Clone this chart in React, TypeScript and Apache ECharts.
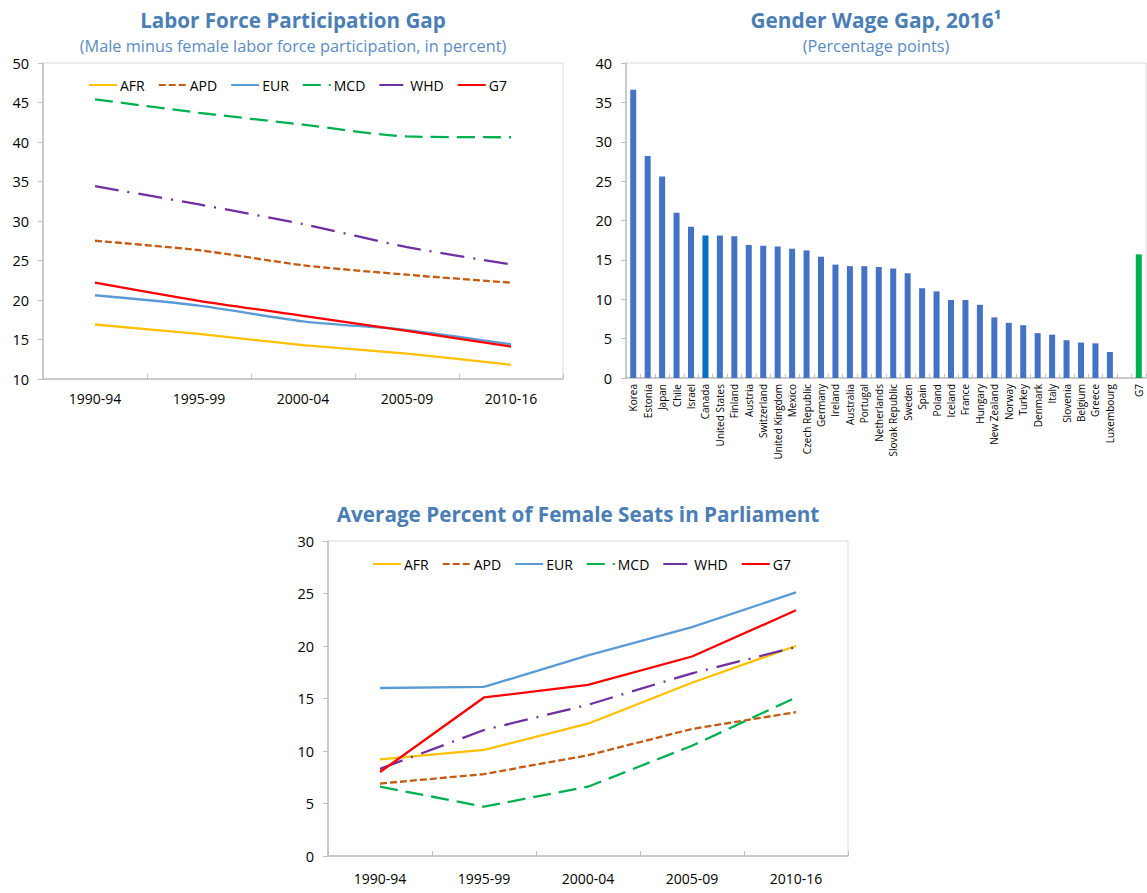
import React, { useEffect, useRef } from "react";
import * as echarts from "echarts";

const periods = ["1990-94", "1995-99", "2000-04", "2005-09", "2010-16"];
const regionNames = ["AFR", "APD", "EUR", "MCD", "WHD", "G7"];

// Labor force participation gap (male minus female, percent)
const lfpAFR = [16.9, 15.7, 14.3, 13.2, 11.8];
const lfpAPD = [27.5, 26.3, 24.4, 23.2, 22.2];
const lfpEUR = [20.6, 19.3, 17.3, 16.2, 14.4];
const lfpMCD = [45.4, 43.7, 42.2, 40.7, 40.6];
const lfpWHD = [34.4, 32.1, 29.6, 26.7, 24.5];
const lfpG7 = [22.2, 19.9, 18.0, 16.1, 14.1];

// Average percent of female seats in parliament
const seatAFR = [9.2, 10.1, 12.6, 16.5, 20.0];
const seatAPD = [6.9, 7.8, 9.6, 12.1, 13.7];
const seatEUR = [16.0, 16.1, 19.1, 21.8, 25.1];
const seatMCD = [6.6, 4.7, 6.6, 10.5, 15.1];
const seatWHD = [8.3, 12.0, 14.4, 17.4, 19.9];
const seatG7 = [8.0, 15.1, 16.3, 19.0, 23.4];

// Gender wage gap 2016 (percentage points)
const countries = [
  "Korea", "Estonia", "Japan", "Chile", "Israel", "Canada", "United States", "Finland",
  "Austria", "Switzerland", "United Kingdom", "Mexico", "Czech Republic", "Germany",
  "Ireland", "Australia", "Portugal", "Netherlands", "Slovak Republic", "Sweden", "Spain",
  "Poland", "Iceland", "France", "Hungary", "New Zealand", "Norway", "Turkey", "Denmark",
  "Italy", "Slovenia", "Belgium", "Greece", "Luxembourg", "", "G7",
];
const wageGap = [
  36.6, 28.2, 25.6, 21.0, 19.2, 18.1, 18.1, 18.0,
  16.9, 16.8, 16.7, 16.4, 16.2, 15.4,
  14.4, 14.2, 14.2, 14.1, 13.9, 13.3, 11.4,
  11.0, 9.9, 9.9, 9.3, 7.7, 7.0, 6.7, 5.7,
  5.5, 4.8, 4.5, 4.4, 3.3, null, 15.7,
];

const FONT = "'Open Sans', 'Noto Sans', sans-serif";
const TITLE_COLOR = "#4A7EB5";
const SUB_COLOR = "#5B8CC2";
const AXIS_COLOR = "#BFBFBF";
const FRAME_COLOR = "#D9D9D9";

const regionStyles: Record<string, { color: string; type: any }> = {
  AFR: { color: "#FFC000", type: "solid" },
  APD: { color: "#C55A11", type: [7, 3] },
  EUR: { color: "#5B9BD5", type: "solid" },
  MCD: { color: "#00B050", type: [18, 8] },
  WHD: { color: "#7030A0", type: [24, 9, 2, 9] },
  G7: { color: "#FF0000", type: "solid" },
};

function lineSeries(name: string, data: number[], idx: number, smooth: number | boolean) {
  const s = regionStyles[name];
  return {
    type: "line",
    name,
    data,
    xAxisIndex: idx,
    yAxisIndex: idx,
    symbol: "none",
    smooth,
    lineStyle: { color: s.color, width: 2.3, type: s.type },
    itemStyle: { color: s.color },
    z: 3,
  };
}

function catAxis(gridIndex: number, margin: number) {
  return {
    type: "category",
    gridIndex,
    data: periods,
    boundaryGap: true,
    axisLine: { lineStyle: { color: AXIS_COLOR, width: 1.5 } },
    axisTick: { show: true, inside: true, length: 5, lineStyle: { color: AXIS_COLOR } },
    axisLabel: { color: "#000", fontSize: 14, fontFamily: FONT, margin },
    splitLine: { show: false },
  };
}

function valAxis(gridIndex: number, min: number, max: number) {
  return {
    type: "value",
    gridIndex,
    min,
    max,
    interval: 5,
    axisLine: { show: true, lineStyle: { color: AXIS_COLOR, width: 1.5 } },
    axisTick: { show: true, inside: false, length: 5, lineStyle: { color: AXIS_COLOR } },
    axisLabel: { color: "#000", fontSize: 14.5, fontFamily: FONT, margin: 14 },
    splitLine: { show: false },
  };
}

function legend(left: number, top: number) {
  return {
    left,
    top,
    orient: "horizontal",
    itemWidth: 28,
    itemHeight: 14,
    itemGap: 13,
    data: regionNames,
    itemStyle: { opacity: 0 },
    textStyle: { color: "#000", fontSize: 14, fontFamily: FONT, padding: [0, 0, 0, -2] },
  };
}

function titleText(x: number, y: number, text: string, size: number, bold: boolean, color: string) {
  return {
    type: "text",
    x,
    y,
    style: {
      text,
      fill: color,
      font: `${bold ? "bold " : ""}${size}px ${FONT}`,
      align: "center",
      verticalAlign: "middle",
    },
  };
}

export default function App() {
  const ref = useRef<HTMLDivElement>(null);

  useEffect(() => {
    if (!ref.current) return;
    const chart = echarts.init(ref.current, null, { renderer: "svg" });
    const barData = wageGap.map((v, i) => ({
      value: v,
      itemStyle: {
        color: countries[i] === "G7" ? "#00B050" : countries[i] === "Canada" ? "#0070C0" : "#4472C4",
      },
    }));

    chart.setOption({
      animation: false,
      backgroundColor: "#FFFFFF",
      textStyle: { fontFamily: FONT },
      graphic: [
        titleText(293, 20, "Labor Force Participation Gap", 20.6, true, TITLE_COLOR),
        titleText(293, 46, "(Male minus female labor force participation, in percent)", 16.3, false, SUB_COLOR),
        titleText(876, 20, "Gender Wage Gap, 2016\u00B9", 20.8, true, TITLE_COLOR),
        titleText(876, 46, "(Percentage points)", 16.3, false, SUB_COLOR),
        titleText(578, 514, "Average Percent of Female Seats in Parliament", 20.7, true, TITLE_COLOR),
      ],
      grid: [
        { left: 43, top: 63, width: 520, height: 316, show: true, borderColor: FRAME_COLOR, borderWidth: 1, containLabel: false },
        { left: 626, top: 63, width: 520, height: 315, show: true, borderColor: FRAME_COLOR, borderWidth: 1, containLabel: false },
        { left: 328, top: 541, width: 520, height: 315, show: true, borderColor: FRAME_COLOR, borderWidth: 1, containLabel: false },
      ],
      legend: [legend(83, 73), legend(367, 552)],
      xAxis: [
        catAxis(0, 12),
        {
          type: "category",
          gridIndex: 1,
          data: countries,
          boundaryGap: true,
          axisLine: { lineStyle: { color: AXIS_COLOR, width: 1.5 } },
          axisTick: { show: true, inside: true, length: 4, interval: 0, lineStyle: { color: AXIS_COLOR } },
          axisLabel: { color: "#000", fontSize: 10, fontFamily: FONT, rotate: 90, interval: 0, margin: 6 },
          splitLine: { show: false },
        },
        catAxis(2, 15),
      ],
      yAxis: [valAxis(0, 10, 50), valAxis(1, 0, 40), valAxis(2, 0, 30)],
      series: [
        lineSeries("AFR", lfpAFR, 0, 0.25),
        lineSeries("APD", lfpAPD, 0, 0.25),
        lineSeries("EUR", lfpEUR, 0, 0.25),
        lineSeries("MCD", lfpMCD, 0, 0.25),
        lineSeries("WHD", lfpWHD, 0, 0.25),
        lineSeries("G7", lfpG7, 0, 0.25),
        {
          type: "bar",
          name: "Wage gap",
          xAxisIndex: 1,
          yAxisIndex: 1,
          data: barData,
          barWidth: 6,
        },
        lineSeries("AFR", seatAFR, 2, false),
        lineSeries("APD", seatAPD, 2, false),
        lineSeries("EUR", seatEUR, 2, false),
        lineSeries("MCD", seatMCD, 2, false),
        lineSeries("WHD", seatWHD, 2, false),
        lineSeries("G7", seatG7, 2, false),
      ],
    });
    return () => chart.dispose();
  }, []);

  return (
    <div
      ref={ref}
      style={{ position: "absolute", left: 0, top: 0, width: 1147, height: 893, background: "#fff" }}
    />
  );
}
